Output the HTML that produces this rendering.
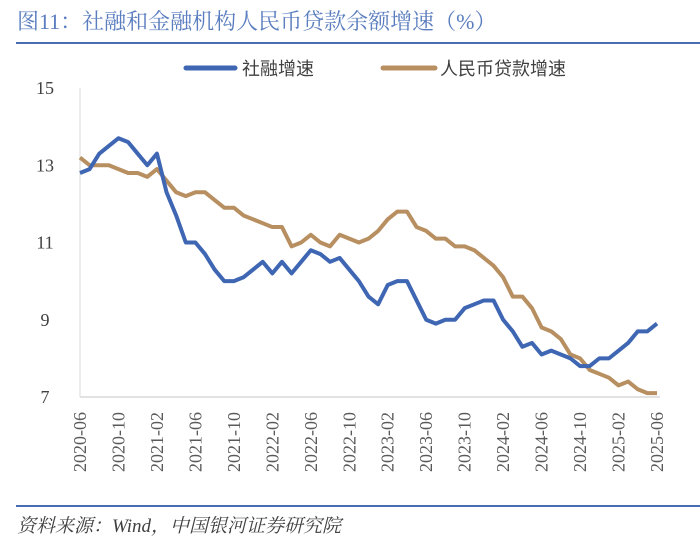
<!DOCTYPE html>
<html><head><meta charset="utf-8">
<style>
body{margin:0;background:#fff;width:700px;height:550px;overflow:hidden;font-family:"Liberation Serif","Noto Serif CJK SC",serif;}
svg{display:block}
</style></head>
<body>
<svg width="700" height="550" xmlns="http://www.w3.org/2000/svg">
<text x="17" y="29" font-size="22" fill="#5a7dbf" font-family="Liberation Serif,Noto Serif CJK SC,serif">图11：社融和金融机构人民币贷款余额增速（%）</text>
<line x1="16" y1="43" x2="700" y2="43" stroke="#4a6cb0" stroke-width="2"/>
<g>
<line x1="186" y1="68" x2="235" y2="68" stroke="#3e66b3" stroke-width="5" stroke-linecap="round"/>
<text x="242" y="75" font-size="18" fill="#404040" font-family="Liberation Sans,Noto Sans CJK SC,sans-serif">社融增速</text>
<line x1="383" y1="68" x2="435" y2="68" stroke="#b88f60" stroke-width="5" stroke-linecap="round"/>
<text x="440" y="75" font-size="18" fill="#404040" font-family="Liberation Sans,Noto Sans CJK SC,sans-serif">人民币贷款增速</text>
</g>
<g id="plot"></g>
<line x1="16" y1="506" x2="700" y2="506" stroke="#4a6cb0" stroke-width="2"/>
<text x="17" y="532" font-size="19" fill="#404040" font-style="italic">资料来源：Wind，中国银河证券研究院</text>
</svg>
<script>
const months=[];for(let y=2020,m=6;!(y===2025&&m===7);){months.push(y+'-'+String(m).padStart(2,'0'));m++;if(m>12){m=1;y++;}}
const tsfGrowth=[12.8,12.9,13.3,13.5,13.7,13.6,13.3,13.0,13.3,12.3,11.7,11.0,11.0,10.7,10.3,10.0,10.0,10.1,10.3,10.5,10.2,10.5,10.2,10.5,10.8,10.7,10.5,10.6,10.3,10.0,9.6,9.4,9.9,10.0,10.0,9.5,9.0,8.9,9.0,9.0,9.3,9.4,9.5,9.5,9.0,8.7,8.3,8.4,8.1,8.2,8.1,8.0,7.8,7.8,8.0,8.0,8.2,8.4,8.7,8.7,8.9];
const loanGrowth=[13.2,13.0,13.0,13.0,12.9,12.8,12.8,12.7,12.9,12.6,12.3,12.2,12.3,12.3,12.1,11.9,11.9,11.7,11.6,11.5,11.4,11.4,10.9,11.0,11.2,11.0,10.9,11.2,11.1,11.0,11.1,11.3,11.6,11.8,11.8,11.4,11.3,11.1,11.1,10.9,10.9,10.8,10.6,10.4,10.1,9.6,9.6,9.3,8.8,8.7,8.5,8.1,8.0,7.7,7.6,7.5,7.3,7.4,7.2,7.1,7.1];
const yTicks=[7,9,11,13,15];
const NS="http://www.w3.org/2000/svg";
const g=document.getElementById('plot');
const X0=80,X1=657,Y0=397,Y1=88;
const xs=i=>X0+(X1-X0)*i/(months.length-1);
const ys=v=>Y0-(v-7)/(15-7)*(Y0-Y1);
function el(t,a){const e=document.createElementNS(NS,t);for(const k in a)e.setAttribute(k,a[k]);g.appendChild(e);return e;}
let ax=el('line',{x1:X0,y1:Y1,x2:X0,y2:Y0,stroke:'#d9d9d9','stroke-width':1});


let bx=el('line',{x1:X0,y1:Y0,x2:X1+3,y2:Y0,stroke:'#d9d9d9','stroke-width':1.5});


yTicks.forEach(v=>{const t=el('text',{x:45,y:ys(v)+6,'font-size':18,fill:'#404040','text-anchor':'middle'});t.textContent=v;

});
months.forEach((m,i)=>{if(i%4!==0)return;const x=xs(i);const t=el('text',{x:0,y:0,'font-size':18,fill:'#595959','text-anchor':'end',transform:`translate(${x+6},${Y0+15}) rotate(-90)`});t.textContent=m;

});
function line(data,color,name){const p=el('polyline',{points:data.map((v,i)=>xs(i)+','+ys(v)).join(' '),fill:'none',stroke:color,'stroke-width':4,'stroke-linejoin':'round'});

}
line(loanGrowth,'#b88f60','loan-growth-line');
line(tsfGrowth,'#3e66b3','tsf-growth-line');
</script>
</body></html>
